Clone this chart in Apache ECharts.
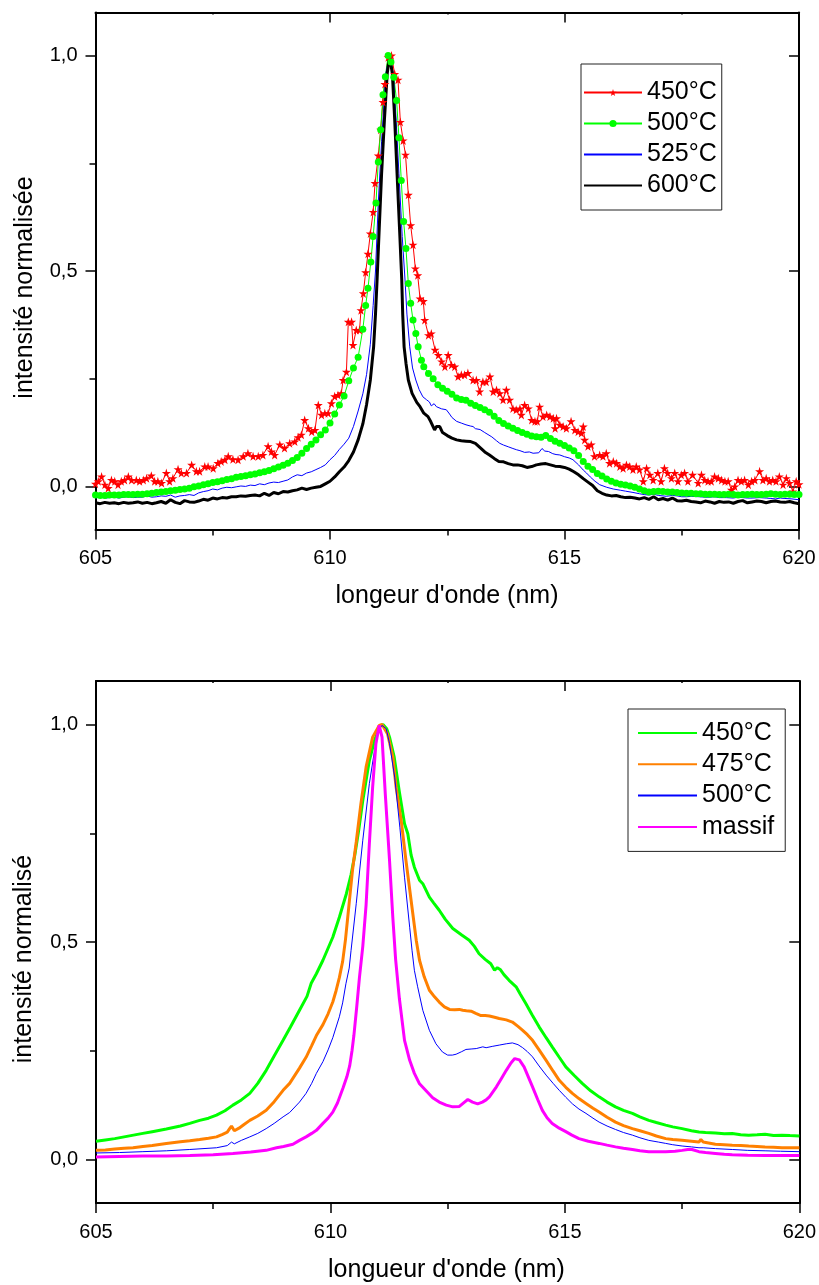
<!DOCTYPE html>
<html><head><meta charset="utf-8">
<script src="https://cdn.jsdelivr.net/npm/echarts@6.0.0/dist/echarts.min.js"></script>
<style>html,body{margin:0;padding:0;background:#fff}#c{width:819px;height:1285px}</style>
</head><body><div id="c"></div>
<script>
const FONT = "'Liberation Sans', Arial, sans-serif";
const xMin = 605, xMax = 620, xStep = 5;
const yMin = -0.1, yMax = 1.1;
const yLabelValues = [0, 0.5, 1.0];
const yMinorValues = [0.25, 0.75];
const topLabels = {T450: '450°C', T500: '500°C', T525: '525°C', T600: '600°C'};
const botLabels = {B450: '450°C', B475: '475°C', B500: '500°C', Bmassif: 'massif'};
const topXTitle = "longeur d'onde (nm)";
const botXTitle = "longueur d'onde (nm)";
const topYTitle = "intensité normalisée";
const botYTitle = "intensité normalisé";

// ---- top panel ----
const top450 = [[605.0,0.006],[605.06,0.012],[605.13,0.023],[605.2,0.004],[605.27,-0.004],[605.34,0.015],[605.41,0.012],[605.48,0.004],[605.55,0.012],[605.62,0.015],[605.7,0.023],[605.77,0.015],[605.87,0.015],[605.94,0.012],[606.02,0.015],[606.09,0.019],[606.19,0.025],[606.26,0.012],[606.33,0.012],[606.41,0.008],[606.51,0.031],[606.58,0.012],[606.65,0.019],[606.76,0.04],[606.83,0.031],[606.94,0.031],[607.05,0.05],[607.15,0.035],[607.22,0.035],[607.33,0.046],[607.4,0.046],[607.51,0.042],[607.61,0.054],[607.68,0.058],[607.76,0.062],[607.83,0.07],[607.93,0.063],[608.04,0.062],[608.15,0.07],[608.25,0.077],[608.36,0.07],[608.47,0.07],[608.57,0.073],[608.68,0.093],[608.75,0.081],[608.82,0.073],[608.93,0.097],[609.03,0.089],[609.14,0.1],[609.25,0.104],[609.32,0.114],[609.39,0.12],[609.46,0.154],[609.54,0.135],[609.61,0.127],[609.68,0.131],[609.75,0.189],[609.82,0.166],[609.89,0.17],[609.96,0.17],[610.03,0.193],[610.1,0.209],[610.17,0.212],[610.24,0.216],[610.28,0.247],[610.35,0.266],[610.39,0.382],[610.46,0.382],[610.49,0.328],[610.56,0.363],[610.63,0.363],[610.66,0.409],[610.71,0.448],[610.76,0.497],[610.81,0.54],[610.86,0.587],[610.92,0.637],[610.96,0.704],[611.03,0.768],[611.08,0.828],[611.13,0.892],[611.17,0.934],[611.24,0.996],[611.31,1.0],[611.38,0.957],[611.45,0.944],[611.5,0.846],[611.56,0.803],[611.61,0.77],[611.67,0.677],[611.72,0.606],[611.77,0.561],[611.82,0.506],[611.87,0.49],[611.92,0.436],[611.99,0.43],[612.02,0.386],[612.1,0.351],[612.16,0.355],[612.24,0.317],[612.31,0.305],[612.38,0.29],[612.45,0.278],[612.52,0.305],[612.59,0.282],[612.66,0.278],[612.73,0.255],[612.8,0.259],[612.87,0.259],[612.94,0.263],[613.05,0.247],[613.12,0.247],[613.19,0.22],[613.26,0.243],[613.33,0.243],[613.41,0.255],[613.48,0.22],[613.55,0.224],[613.62,0.216],[613.69,0.201],[613.76,0.224],[613.83,0.201],[613.9,0.181],[613.97,0.178],[614.05,0.181],[614.08,0.166],[614.15,0.189],[614.23,0.181],[614.3,0.154],[614.37,0.151],[614.42,0.151],[614.47,0.185],[614.54,0.162],[614.62,0.166],[614.69,0.162],[614.76,0.158],[614.8,0.135],[614.83,0.158],[614.9,0.143],[614.97,0.139],[615.04,0.135],[615.14,0.151],[615.22,0.131],[615.29,0.127],[615.36,0.124],[615.4,0.139],[615.43,0.108],[615.5,0.093],[615.57,0.097],[615.64,0.07],[615.75,0.073],[615.82,0.07],[615.89,0.077],[615.96,0.054],[616.04,0.058],[616.11,0.054],[616.18,0.046],[616.25,0.042],[616.32,0.05],[616.39,0.046],[616.46,0.039],[616.53,0.046],[616.6,0.039],[616.68,0.012],[616.75,0.042],[616.82,0.027],[616.89,0.015],[616.99,0.031],[617.06,0.012],[617.13,0.042],[617.2,0.031],[617.28,0.019],[617.35,0.031],[617.42,0.012],[617.49,0.027],[617.56,0.031],[617.63,0.012],[617.73,0.027],[617.85,0.008],[617.92,0.027],[617.99,0.015],[618.06,0.012],[618.13,0.012],[618.2,0.023],[618.28,0.019],[618.35,0.015],[618.42,0.012],[618.49,0.012],[618.56,-0.008],[618.63,0.0],[618.7,0.015],[618.77,0.012],[618.84,0.015],[618.92,0.004],[618.99,0.012],[619.06,0.015],[619.16,0.035],[619.23,0.015],[619.3,0.019],[619.37,0.012],[619.44,0.015],[619.51,0.012],[619.58,0.023],[619.66,0.004],[619.73,0.019],[619.8,0.008],[619.87,-0.012],[619.94,0.012],[620.0,0.005]];

const top500 = [[605.0,-0.020],[605.1,-0.021],[605.2,-0.021],[605.3,-0.020],[605.4,-0.020],[605.5,-0.020],[605.6,-0.019],[605.7,-0.019],[605.8,-0.019],[605.9,-0.018],[606.0,-0.018],[606.1,-0.017],[606.2,-0.016],[606.3,-0.014],[606.4,-0.013],[606.5,-0.012],[606.6,-0.010],[606.7,-0.009],[606.8,-0.007],[606.9,-0.006],[607.0,-0.004],[607.1,-0.001],[607.2,0.001],[607.3,0.004],[607.4,0.006],[607.5,0.009],[607.6,0.011],[607.7,0.013],[607.8,0.016],[607.9,0.018],[608.0,0.021],[608.1,0.023],[608.2,0.025],[608.3,0.027],[608.4,0.029],[608.5,0.032],[608.6,0.034],[608.7,0.037],[608.8,0.041],[608.9,0.045],[609.0,0.049],[609.1,0.054],[609.2,0.060],[609.3,0.067],[609.4,0.077],[609.5,0.088],[609.6,0.098],[609.7,0.108],[609.8,0.120],[609.9,0.131],[610.0,0.147],[610.1,0.168],[610.2,0.189],[610.3,0.210],[610.4,0.245],[610.5,0.275],[610.6,0.300],[610.7,0.365],[610.76,0.42],[610.81,0.46],[610.87,0.521],[610.92,0.58],[610.98,0.658],[611.03,0.753],[611.08,0.828],[611.13,0.909],[611.18,0.951],[611.24,1.0],[611.3,0.985],[611.36,0.95],[611.42,0.896],[611.47,0.809],[611.52,0.71],[611.57,0.615],[611.62,0.552],[611.67,0.471],[611.72,0.425],[611.77,0.386],[611.83,0.355],[611.88,0.324],[611.95,0.293],[612.0,0.278],[612.1,0.262],[612.2,0.250],[612.3,0.236],[612.4,0.228],[612.5,0.221],[612.6,0.214],[612.7,0.205],[612.8,0.202],[612.9,0.200],[613.0,0.193],[613.1,0.188],[613.2,0.183],[613.3,0.178],[613.4,0.172],[613.5,0.163],[613.6,0.153],[613.7,0.146],[613.8,0.140],[613.9,0.135],[614.0,0.130],[614.1,0.125],[614.2,0.121],[614.3,0.117],[614.4,0.115],[614.5,0.114],[614.6,0.118],[614.7,0.111],[614.8,0.105],[614.9,0.100],[615.0,0.095],[615.1,0.089],[615.2,0.083],[615.3,0.072],[615.4,0.058],[615.5,0.047],[615.6,0.039],[615.7,0.030],[615.8,0.024],[615.9,0.017],[616.0,0.012],[616.1,0.008],[616.2,0.005],[616.3,0.003],[616.4,0.001],[616.5,-0.002],[616.6,-0.006],[616.7,-0.010],[616.8,-0.013],[616.9,-0.012],[617.0,-0.011],[617.1,-0.012],[617.2,-0.013],[617.3,-0.013],[617.4,-0.014],[617.5,-0.015],[617.6,-0.016],[617.7,-0.016],[617.8,-0.017],[617.9,-0.017],[618.0,-0.018],[618.1,-0.018],[618.2,-0.018],[618.3,-0.019],[618.4,-0.019],[618.5,-0.018],[618.6,-0.019],[618.7,-0.020],[618.8,-0.019],[618.9,-0.019],[619.0,-0.018],[619.1,-0.019],[619.2,-0.019],[619.3,-0.018],[619.4,-0.017],[619.5,-0.018],[619.6,-0.019],[619.7,-0.018],[619.8,-0.018],[619.9,-0.019],[620.0,-0.019]];

const top525 = [[605.0,-0.027],[605.1,-0.024],[605.2,-0.027],[605.3,-0.026],[605.4,-0.025],[605.5,-0.027],[605.6,-0.025],[605.7,-0.024],[605.8,-0.026],[605.9,-0.025],[606.0,-0.025],[606.1,-0.022],[606.2,-0.025],[606.3,-0.024],[606.4,-0.022],[606.5,-0.023],[606.6,-0.020],[606.7,-0.025],[606.8,-0.022],[606.9,-0.021],[607.0,-0.019],[607.1,-0.021],[607.2,-0.015],[607.3,-0.012],[607.4,-0.010],[607.5,-0.006],[607.6,-0.008],[607.7,-0.004],[607.8,-0.002],[607.9,-0.003],[608.0,-0.001],[608.1,0.001],[608.2,0.000],[608.3,0.003],[608.4,0.002],[608.5,0.006],[608.6,0.004],[608.7,0.008],[608.8,0.010],[608.9,0.009],[609.0,0.012],[609.1,0.015],[609.2,0.022],[609.3,0.027],[609.4,0.025],[609.5,0.031],[609.6,0.034],[609.7,0.039],[609.8,0.044],[609.9,0.050],[610.0,0.062],[610.1,0.072],[610.2,0.086],[610.3,0.098],[610.4,0.112],[610.5,0.139],[610.6,0.175],[610.7,0.215],[610.78,0.26],[610.86,0.33],[610.92,0.42],[610.97,0.50],[611.03,0.66],[611.1,0.80],[611.19,0.958],[611.27,1.0],[611.35,0.958],[611.41,0.85],[611.47,0.726],[611.54,0.58],[611.6,0.479],[611.64,0.40],[611.70,0.324],[611.76,0.275],[611.83,0.247],[611.9,0.225],[611.98,0.208],[612.06,0.201],[612.12,0.196],[612.16,0.187],[612.22,0.192],[612.27,0.185],[612.38,0.180],[612.48,0.178],[612.55,0.168],[612.6,0.160],[612.70,0.151],[612.8,0.147],[612.9,0.143],[613.0,0.140],[613.05,0.139],[613.1,0.134],[613.2,0.132],[613.3,0.125],[613.34,0.124],[613.45,0.115],[613.55,0.106],[613.62,0.100],[613.7,0.096],[613.8,0.092],[613.9,0.088],[613.98,0.085],[614.05,0.083],[614.15,0.079],[614.25,0.080],[614.33,0.077],[614.45,0.078],[614.52,0.088],[614.58,0.082],[614.66,0.081],[614.75,0.076],[614.82,0.074],[614.9,0.073],[615.0,0.069],[615.1,0.066],[615.18,0.062],[615.3,0.050],[615.4,0.038],[615.47,0.031],[615.55,0.022],[615.65,0.012],[615.75,0.004],[615.9,-0.002],[616.04,-0.006],[616.2,-0.009],[616.3,-0.011],[616.46,-0.014],[616.6,-0.017],[616.7,-0.019],[616.8,-0.020],[616.9,-0.018],[617.0,-0.021],[617.1,-0.022],[617.17,-0.023],[617.3,-0.021],[617.4,-0.022],[617.5,-0.024],[617.6,-0.024],[617.7,-0.023],[617.88,-0.024],[618.0,-0.025],[618.1,-0.025],[618.2,-0.024],[618.3,-0.026],[618.45,-0.026],[618.6,-0.027],[618.7,-0.025],[618.8,-0.026],[618.9,-0.027],[619.0,-0.027],[619.15,-0.026],[619.3,-0.027],[619.4,-0.028],[619.5,-0.029],[619.6,-0.027],[619.7,-0.028],[619.85,-0.029],[620.0,-0.031]];

const top600 = [[605.0,-0.038],[605.1,-0.040],[605.2,-0.037],[605.3,-0.039],[605.4,-0.038],[605.5,-0.040],[605.6,-0.037],[605.7,-0.039],[605.8,-0.038],[605.9,-0.036],[606.0,-0.039],[606.1,-0.037],[606.2,-0.040],[606.3,-0.038],[606.4,-0.035],[606.5,-0.039],[606.6,-0.031],[606.7,-0.037],[606.8,-0.040],[606.9,-0.033],[607.0,-0.036],[607.1,-0.037],[607.2,-0.034],[607.3,-0.030],[607.4,-0.032],[607.5,-0.027],[607.6,-0.029],[607.7,-0.026],[607.8,-0.027],[607.9,-0.024],[608.0,-0.024],[608.1,-0.022],[608.2,-0.023],[608.3,-0.021],[608.4,-0.020],[608.5,-0.022],[608.6,-0.016],[608.7,-0.021],[608.8,-0.014],[608.9,-0.017],[609.0,-0.012],[609.1,-0.013],[609.2,-0.010],[609.3,-0.008],[609.4,-0.004],[609.5,-0.007],[609.6,-0.004],[609.7,-0.002],[609.8,0.000],[609.9,0.006],[610.0,0.012],[610.1,0.022],[610.2,0.034],[610.3,0.045],[610.4,0.060],[610.5,0.080],[610.6,0.108],[610.7,0.145],[610.78,0.19],[610.86,0.247],[610.93,0.324],[610.97,0.40],[611.0,0.47],[611.05,0.60],[611.1,0.726],[611.16,0.85],[611.22,0.958],[611.27,1.0],[611.33,0.958],[611.38,0.85],[611.43,0.726],[611.49,0.58],[611.53,0.479],[611.55,0.40],[611.58,0.324],[611.62,0.286],[611.67,0.247],[611.75,0.216],[611.85,0.195],[611.92,0.185],[612.0,0.17],[612.09,0.162],[612.15,0.150],[612.23,0.131],[612.27,0.139],[612.34,0.139],[612.4,0.125],[612.5,0.118],[612.6,0.112],[612.7,0.108],[612.8,0.106],[612.9,0.105],[613.0,0.104],[613.1,0.100],[613.2,0.090],[613.3,0.080],[613.4,0.073],[613.5,0.065],[613.6,0.058],[613.7,0.057],[613.8,0.053],[613.9,0.050],[614.0,0.050],[614.1,0.048],[614.2,0.044],[614.3,0.046],[614.4,0.050],[614.5,0.052],[614.6,0.053],[614.7,0.050],[614.8,0.047],[614.9,0.046],[615.0,0.044],[615.1,0.040],[615.2,0.034],[615.3,0.027],[615.4,0.018],[615.5,0.010],[615.6,0.002],[615.7,-0.010],[615.8,-0.016],[615.9,-0.020],[616.0,-0.022],[616.1,-0.021],[616.2,-0.024],[616.3,-0.026],[616.4,-0.025],[616.5,-0.027],[616.6,-0.029],[616.7,-0.026],[616.8,-0.030],[616.9,-0.024],[617.0,-0.031],[617.1,-0.028],[617.2,-0.032],[617.3,-0.027],[617.4,-0.033],[617.5,-0.034],[617.6,-0.032],[617.7,-0.035],[617.8,-0.036],[617.9,-0.038],[618.0,-0.034],[618.1,-0.036],[618.2,-0.039],[618.3,-0.035],[618.4,-0.037],[618.5,-0.036],[618.6,-0.039],[618.7,-0.035],[618.8,-0.033],[618.9,-0.038],[619.0,-0.036],[619.1,-0.034],[619.2,-0.035],[619.3,-0.038],[619.4,-0.035],[619.5,-0.034],[619.6,-0.036],[619.7,-0.037],[619.8,-0.035],[619.9,-0.038],[620.0,-0.040]];

// ---- bottom panel ----
const bot450 = [[605.0,0.042],[605.2,0.045],[605.4,0.048],[605.6,0.052],[605.8,0.056],[606.0,0.060],[606.2,0.064],[606.5,0.070],[606.8,0.077],[607.0,0.083],[607.21,0.090],[607.4,0.095],[607.57,0.102],[607.75,0.112],[607.92,0.125],[608.1,0.137],[608.28,0.152],[608.45,0.175],[608.63,0.205],[608.8,0.238],[608.99,0.274],[609.15,0.305],[609.34,0.343],[609.5,0.375],[609.59,0.405],[609.7,0.427],[609.84,0.458],[610.05,0.511],[610.19,0.557],[610.34,0.611],[610.44,0.655],[610.52,0.700],[610.6,0.755],[610.69,0.825],[610.83,0.917],[610.94,0.963],[611.05,0.995],[611.12,1.0],[611.2,0.99],[611.26,0.971],[611.36,0.925],[611.47,0.845],[611.58,0.772],[611.65,0.749],[611.72,0.70],[611.79,0.672],[611.9,0.642],[611.97,0.634],[612.11,0.603],[612.2,0.59],[612.32,0.573],[612.45,0.552],[612.61,0.531],[612.8,0.516],[612.96,0.504],[613.07,0.49],[613.17,0.473],[613.3,0.46],[613.42,0.450],[613.5,0.435],[613.56,0.441],[613.62,0.437],[613.7,0.425],[613.81,0.412],[613.96,0.397],[614.05,0.38],[614.17,0.358],[614.3,0.333],[614.45,0.305],[614.6,0.28],[614.73,0.259],[614.88,0.235],[615.02,0.213],[615.2,0.193],[615.37,0.175],[615.55,0.158],[615.73,0.144],[615.9,0.132],[616.08,0.121],[616.25,0.113],[616.44,0.106],[616.6,0.098],[616.79,0.090],[616.95,0.085],[617.15,0.079],[617.3,0.075],[617.5,0.071],[617.7,0.066],[617.86,0.063],[618.0,0.062],[618.21,0.061],[618.4,0.059],[618.57,0.060],[618.75,0.057],[618.92,0.056],[619.1,0.057],[619.27,0.058],[619.45,0.055],[619.63,0.056],[619.8,0.055],[620.0,0.054]];

const bot475 = [[605.0,0.021],[605.2,0.022],[605.4,0.024],[605.6,0.026],[605.79,0.027],[606.0,0.030],[606.2,0.032],[606.5,0.037],[606.8,0.041],[607.0,0.043],[607.21,0.046],[607.4,0.049],[607.57,0.052],[607.7,0.058],[607.8,0.063],[607.85,0.071],[607.89,0.077],[607.95,0.066],[608.05,0.072],[608.15,0.080],[608.28,0.090],[608.45,0.100],[608.63,0.113],[608.8,0.133],[608.99,0.159],[609.13,0.175],[609.34,0.210],[609.48,0.235],[609.6,0.262],[609.7,0.285],[609.84,0.31],[609.95,0.335],[610.05,0.362],[610.12,0.388],[610.19,0.418],[610.26,0.455],[610.32,0.505],[610.4,0.590],[610.47,0.665],[610.55,0.730],[610.65,0.818],[610.76,0.902],[610.9,0.971],[611.04,0.998],[611.1,1.0],[611.22,0.978],[611.33,0.925],[611.4,0.856],[611.51,0.779],[611.61,0.688],[611.72,0.596],[611.83,0.504],[611.9,0.458],[612.0,0.42],[612.11,0.389],[612.22,0.374],[612.32,0.362],[612.43,0.351],[612.54,0.345],[612.65,0.344],[612.75,0.345],[612.82,0.343],[612.9,0.342],[613.0,0.341],[613.1,0.336],[613.21,0.331],[613.3,0.331],[613.39,0.330],[613.5,0.327],[613.6,0.324],[613.75,0.321],[613.88,0.316],[614.0,0.306],[614.1,0.297],[614.2,0.287],[614.31,0.274],[614.45,0.252],[614.6,0.228],[614.75,0.203],[614.88,0.182],[615.02,0.166],[615.16,0.152],[615.3,0.140],[615.45,0.129],[615.6,0.118],[615.73,0.109],[615.9,0.097],[616.08,0.086],[616.25,0.078],[616.44,0.071],[616.6,0.066],[616.79,0.060],[616.95,0.054],[617.15,0.048],[617.3,0.046],[617.5,0.044],[617.7,0.042],[617.86,0.040],[617.9,0.046],[617.95,0.040],[618.21,0.035],[618.4,0.034],[618.57,0.033],[618.75,0.032],[618.92,0.031],[619.1,0.030],[619.27,0.029],[619.45,0.028],[619.63,0.027],[619.8,0.027],[620.0,0.027]];

const bot500 = [[605.0,0.015],[605.5,0.016],[606.0,0.018],[606.5,0.020],[607.0,0.023],[607.57,0.027],[607.8,0.032],[607.89,0.040],[607.95,0.036],[608.1,0.044],[608.28,0.052],[608.45,0.060],[608.63,0.071],[608.8,0.083],[608.99,0.098],[609.13,0.108],[609.34,0.132],[609.48,0.152],[609.6,0.175],[609.7,0.198],[609.84,0.225],[609.95,0.252],[610.05,0.28],[610.19,0.328],[610.26,0.36],[610.33,0.404],[610.4,0.44],[610.44,0.481],[610.55,0.588],[610.69,0.734],[610.83,0.864],[610.94,0.940],[611.04,0.990],[611.1,0.998],[611.19,0.990],[611.26,0.956],[611.37,0.879],[611.48,0.764],[611.58,0.649],[611.69,0.534],[611.74,0.481],[611.79,0.435],[611.86,0.397],[611.97,0.343],[612.11,0.297],[612.25,0.266],[612.39,0.247],[612.5,0.240],[612.6,0.240],[612.68,0.242],[612.8,0.248],[612.89,0.253],[613.0,0.254],[613.11,0.255],[613.25,0.259],[613.32,0.257],[613.45,0.260],[613.6,0.263],[613.75,0.266],[613.88,0.268],[614.0,0.264],[614.1,0.257],[614.2,0.248],[614.31,0.236],[614.45,0.215],[614.6,0.194],[614.75,0.175],[614.88,0.159],[615.02,0.143],[615.16,0.128],[615.3,0.116],[615.45,0.106],[615.6,0.095],[615.73,0.086],[615.9,0.077],[616.08,0.069],[616.25,0.062],[616.44,0.056],[616.6,0.050],[616.79,0.044],[617.0,0.040],[617.15,0.037],[617.3,0.034],[617.5,0.031],[617.7,0.029],[617.86,0.027],[617.9,0.030],[617.95,0.027],[618.21,0.025],[618.57,0.023],[618.9,0.021],[619.27,0.020],[619.6,0.019],[620.0,0.018]];

const botMassif = [[605.0,0.006],[605.5,0.007],[606.0,0.008],[606.5,0.008],[607.0,0.009],[607.5,0.011],[607.92,0.014],[608.3,0.017],[608.63,0.021],[608.85,0.027],[609.0,0.030],[609.2,0.035],[609.34,0.044],[609.48,0.052],[609.6,0.060],[609.7,0.067],[609.84,0.083],[609.95,0.095],[610.05,0.109],[610.15,0.13],[610.27,0.165],[610.35,0.19],[610.41,0.215],[610.46,0.25],[610.5,0.285],[610.56,0.35],[610.62,0.42],[610.69,0.49],[610.76,0.585],[610.83,0.726],[610.9,0.856],[610.97,0.956],[611.04,0.998],[611.06,1.0],[611.1,0.971],[611.17,0.84],[611.26,0.688],[611.33,0.557],[611.39,0.46],[611.47,0.37],[611.58,0.274],[611.69,0.228],[611.79,0.198],[611.9,0.174],[612.04,0.158],[612.18,0.142],[612.32,0.132],[612.47,0.125],[612.61,0.121],[612.75,0.122],[612.86,0.132],[612.93,0.138],[613.03,0.132],[613.14,0.128],[613.24,0.132],[613.32,0.137],[613.39,0.144],[613.54,0.167],[613.65,0.187],[613.75,0.205],[613.85,0.222],[613.93,0.232],[614.03,0.229],[614.13,0.213],[614.22,0.19],[614.31,0.167],[614.42,0.138],[614.52,0.113],[614.62,0.096],[614.73,0.083],[614.88,0.072],[615.02,0.064],[615.15,0.056],[615.3,0.048],[615.5,0.042],[615.73,0.037],[615.9,0.033],[616.08,0.029],[616.25,0.026],[616.44,0.023],[616.6,0.020],[616.79,0.018],[617.0,0.018],[617.15,0.018],[617.35,0.019],[617.5,0.021],[617.62,0.023],[617.71,0.023],[617.86,0.018],[618.0,0.016],[618.21,0.014],[618.4,0.012],[618.57,0.011],[618.9,0.010],[619.27,0.009],[619.6,0.009],[620.0,0.009]];

const STAR = 'path://M50,0 L61,35 L98,35 L68,57 L79,91 L50,70 L21,91 L32,57 L2,35 L39,35 Z';
const fmtY = v => v.toFixed(1).replace('.', ',');
const BLACK = '#000';

function xAxesFor(gi) {
  const base = {gridIndex: gi, type: 'value', min: xMin, max: xMax, interval: xStep,
    splitLine: {show: false}, axisLine: {show: true, onZero: false, lineStyle: {color: BLACK, width: 2}}};
  return [
    Object.assign({}, base, {position: 'bottom',
      axisTick: {show: true, inside: false, length: 10, lineStyle: {color: BLACK, width: 1.5}},
      minorTick: {show: true, splitNumber: 2, length: 6, lineStyle: {color: BLACK, width: 1.5}},
      axisLabel: {show: true, margin: 19, color: BLACK, fontSize: 20, fontFamily: FONT}}),
    Object.assign({}, base, {position: 'top',
      axisTick: {show: true, inside: true, length: 10, lineStyle: {color: BLACK, width: 1.5}},
      minorTick: {show: true, splitNumber: 2, length: 2, lineStyle: {color: BLACK, width: 1.5}},
      axisLabel: {show: false}})
  ];
}
function yAxesFor(gi) {
  const base = {gridIndex: gi, type: 'value', min: yMin, max: yMax, splitLine: {show: false}};
  return [
    Object.assign({}, base, {position: 'left',
      axisLine: {show: true, onZero: false, lineStyle: {color: BLACK, width: 2}},
      axisTick: {show: true, inside: false, length: 10, customValues: yLabelValues, lineStyle: {color: BLACK, width: 1.5}},
      axisLabel: {show: true, customValues: yLabelValues, formatter: fmtY, margin: 18, color: BLACK, fontSize: 20, fontFamily: FONT}}),
    Object.assign({}, base, {position: 'left',
      axisLine: {show: false},
      axisTick: {show: true, inside: false, length: 6, customValues: yMinorValues, lineStyle: {color: BLACK, width: 1.5}},
      axisLabel: {show: false}}),
    Object.assign({}, base, {position: 'right',
      axisLine: {show: true, onZero: false, lineStyle: {color: BLACK, width: 2}},
      axisTick: {show: true, inside: true, length: 10, customValues: yLabelValues, lineStyle: {color: BLACK, width: 1.5}},
      axisLabel: {show: false}})
  ];
}

function lineSeries(name, data, xi, yi, color, width, extra) {
  return Object.assign({
    name: name, type: 'line', data: data, xAxisIndex: xi, yAxisIndex: yi,
    symbol: 'none', showSymbol: false, lineStyle: {color: color, width: width},
    itemStyle: {color: color}, emphasis: {disabled: true}, animation: false, silent: true
  }, extra || {});
}

const series = [
  lineSeries('T450', top450, 0, 0, '#ff0000', 1, {symbol: STAR, symbolSize: 9, showSymbol: true, showAllSymbol: true}),
  lineSeries('T500', top500, 0, 0, '#00ff00', 1, {symbol: 'circle', symbolSize: 7, showSymbol: true, showAllSymbol: true}),
  lineSeries('T525', top525, 0, 0, '#0000ff', 1),
  lineSeries('T600', top600, 0, 0, '#000000', 3),
  lineSeries('B450', bot450, 2, 3, '#00ff00', 3),
  lineSeries('B475', bot475, 2, 3, '#ff8000', 3),
  lineSeries('B500', bot500, 2, 3, '#0000ff', 1),
  lineSeries('Bmassif', botMassif, 2, 3, '#ff00ff', 3)
];

const noMark = {opacity: 0, color: 'rgba(0,0,0,0)', borderWidth: 0};
const legendText = {fontSize: 25, color: BLACK, fontFamily: FONT};
const option = {
  backgroundColor: '#fff',
  animation: false,
  grid: [
    {left: 95.5, top: 12.5, width: 703.5, height: 517},
    {left: 96, top: 681, width: 704.5, height: 522}
  ],
  xAxis: xAxesFor(0).concat(xAxesFor(1)),
  yAxis: yAxesFor(0).concat(yAxesFor(1)),
  legend: [
    {orient: 'vertical', left: 581, top: 64,
     data: [{name: 'T450'}, {name: 'T500'}, {name: 'T525', itemStyle: noMark}, {name: 'T600', itemStyle: noMark}],
     formatter: n => topLabels[n],
     itemWidth: 58, itemHeight: 9, itemGap: 6, padding: [16, 5, 12, 2], borderColor: '#222', borderWidth: 1,
     selectedMode: false, textStyle: legendText},
    {orient: 'vertical', left: 628, top: 709,
     data: Object.keys(botLabels).map(n => ({name: n, itemStyle: noMark})),
     formatter: n => botLabels[n],
     itemWidth: 59, itemHeight: 9, itemGap: 6.3, padding: [11.5, 11, 12, 9], borderColor: '#222', borderWidth: 1,
     selectedMode: false, textStyle: legendText}
  ],
  graphic: [
    {type: 'text', x: 447, y: 596, silent: true, style: {text: topXTitle, fill: BLACK, fontSize: 25, fontFamily: FONT, align: 'center', verticalAlign: 'middle', textAlign: 'center', textVerticalAlign: 'middle'}},
    {type: 'text', x: 446.5, y: 1270, silent: true, style: {text: botXTitle, fill: BLACK, fontSize: 25, fontFamily: FONT, align: 'center', verticalAlign: 'middle', textAlign: 'center', textVerticalAlign: 'middle'}},
    {type: 'text', x: 25.5, y: 287.5, rotation: Math.PI / 2, silent: true, style: {text: topYTitle, fill: BLACK, fontSize: 25, fontFamily: FONT, align: 'center', verticalAlign: 'middle', textAlign: 'center', textVerticalAlign: 'middle'}},
    {type: 'text', x: 24.5, y: 959, rotation: Math.PI / 2, silent: true, style: {text: botYTitle, fill: BLACK, fontSize: 25, fontFamily: FONT, align: 'center', verticalAlign: 'middle', textAlign: 'center', textVerticalAlign: 'middle'}}
  ],
  series: series
};
const chart = echarts.init(document.getElementById('c'), null, {renderer: 'canvas'});
chart.setOption(option);
</script></body></html>
